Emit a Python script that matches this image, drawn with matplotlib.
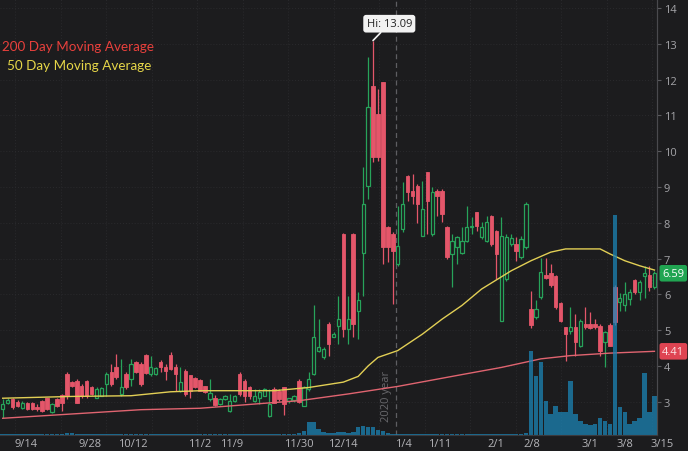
import numpy as np
import matplotlib
matplotlib.use('Agg')
import matplotlib.pyplot as plt
import matplotlib.transforms as mtransforms

# daily candles, 9/8 .. 3/15 (one entry per trading day)
opens = [2.80, 2.98, 3.08, 3.00, 2.82, 2.98, 2.98, 2.85, 3.03, 3.10,
         2.71, 3.08, 3.19, 3.78, 3.56, 3.59, 3.45, 3.59, 3.40, 3.12,
         3.17, 3.50, 3.82, 3.96, 3.22, 3.78, 3.64, 4.12, 4.06, 4.31,
         3.78, 3.78, 4.12, 3.96, 4.31, 3.96, 3.31, 3.87, 3.75, 3.66,
         3.62, 3.43, 3.08, 3.12, 2.94, 3.08, 2.75, 3.03, 3.78, 3.59,
         3.40, 3.03, 3.12, 3.17, 2.61, 3.36, 3.31, 3.40, 3.03, 3.05,
         3.59, 2.89, 3.36, 3.78, 4.43, 4.24, 5.17, 4.82, 5.13, 7.69,
         5.03, 7.69, 5.55, 7.17, 9.04, 11.83, 11.04, 11.92, 7.87, 7.69,
         6.85, 7.83, 9.30, 8.90, 9.04, 7.64, 9.41, 7.69, 8.90, 8.90,
         7.87, 7.13, 7.31, 7.17, 7.50, 7.87, 8.29, 7.59, 7.50, 8.20,
         7.78, 5.27, 6.43, 7.41, 7.41, 7.04, 7.31, 5.60, 5.36, 5.92,
         6.54, 6.60, 6.52, 5.76, 5.08, 4.98, 5.08, 4.57, 5.17, 5.17,
         5.17, 5.13, 4.66, 5.15, 6.20, 5.80, 5.69, 5.87, 6.40, 6.06,
         6.50, 6.55, 6.20]
highs = [3.08, 3.10, 3.12, 3.05, 3.03, 3.00, 3.00, 2.94, 3.05, 3.12,
         2.98, 3.12, 3.22, 3.84, 3.59, 3.64, 3.50, 3.62, 3.43, 3.40,
         3.40, 3.82, 4.06, 4.34, 4.20, 3.82, 4.20, 4.15, 4.10, 4.34,
         4.27, 3.96, 4.18, 4.05, 4.38, 4.05, 3.96, 3.92, 3.75, 3.70,
         3.64, 3.45, 3.64, 3.20, 3.10, 3.19, 3.22, 3.19, 3.82, 3.64,
         3.45, 3.36, 3.36, 3.38, 3.36, 3.40, 3.36, 3.42, 3.12, 3.20,
         3.64, 3.45, 3.82, 5.69, 5.31, 4.52, 5.22, 4.95, 5.96, 7.72,
         5.96, 7.72, 6.06, 9.55, 12.62, 13.09, 11.74, 11.94, 7.90, 7.73,
         8.48, 9.13, 9.33, 9.36, 9.08, 9.18, 9.43, 8.99, 8.94, 8.94,
         7.92, 7.69, 7.64, 7.87, 8.48, 8.15, 8.31, 8.01, 8.20, 8.22,
         7.80, 8.15, 7.69, 7.69, 7.59, 7.64, 8.57, 6.10, 5.83, 7.03,
         7.03, 6.85, 6.55, 5.78, 5.10, 5.64, 5.45, 5.31, 5.64, 5.50,
         5.31, 5.17, 4.98, 5.20, 6.25, 6.05, 6.34, 6.15, 6.43, 6.40,
         6.80, 6.80, 6.66]
lows = [2.54, 2.95, 2.80, 2.85, 2.80, 2.78, 2.78, 2.75, 2.72, 2.78,
        2.68, 2.85, 2.75, 3.08, 3.40, 2.97, 3.10, 3.12, 3.20, 3.10,
        3.15, 3.17, 3.45, 3.64, 3.17, 3.36, 3.45, 3.80, 3.45, 3.78,
        3.72, 3.76, 3.82, 3.60, 3.88, 3.31, 3.26, 3.17, 3.12, 3.38,
        3.29, 3.24, 3.03, 2.89, 2.92, 3.05, 2.72, 3.00, 3.17, 2.99,
        3.08, 2.99, 2.94, 3.15, 2.57, 2.96, 3.02, 2.62, 2.98, 3.00,
        2.97, 2.87, 3.31, 3.74, 4.38, 4.19, 4.29, 4.80, 4.61, 4.80,
        4.61, 4.80, 4.75, 5.96, 8.66, 9.69, 9.73, 6.85, 6.90, 5.73,
        6.80, 7.74, 8.62, 8.53, 8.00, 7.64, 7.69, 7.64, 8.20, 8.01,
        6.99, 6.20, 6.85, 7.13, 7.45, 7.69, 7.78, 7.55, 7.45, 7.36,
        6.43, 5.27, 6.38, 7.36, 6.94, 6.99, 7.27, 5.05, 5.31, 5.87,
        6.43, 6.22, 5.59, 5.22, 4.15, 4.89, 4.29, 4.52, 5.03, 5.03,
        5.03, 4.29, 3.96, 4.57, 5.15, 5.55, 5.55, 5.70, 6.00, 5.85,
        5.90, 6.10, 6.15]
closes = [2.94, 3.05, 2.85, 2.89, 2.96, 2.80, 2.80, 2.80, 2.75, 2.80,
          2.94, 2.89, 2.98, 3.17, 3.45, 2.98, 3.17, 3.17, 3.22, 3.36,
          3.38, 3.78, 3.50, 3.68, 3.40, 3.40, 4.06, 3.82, 3.50, 3.80,
          3.96, 3.94, 3.96, 3.87, 3.92, 3.78, 3.54, 3.22, 3.31, 3.40,
          3.31, 3.26, 3.24, 2.91, 3.08, 3.17, 3.03, 3.15, 3.22, 3.17,
          3.17, 3.17, 3.26, 3.36, 2.94, 2.98, 3.08, 2.94, 3.10, 3.15,
          2.99, 3.40, 3.64, 4.80, 4.52, 4.47, 4.61, 4.90, 5.31, 5.03,
          5.31, 5.17, 5.83, 8.52, 11.22, 9.83, 9.83, 7.31, 7.31, 7.22,
          7.36, 8.52, 8.85, 8.76, 8.52, 8.39, 8.62, 8.85, 8.76, 8.25,
          7.04, 7.50, 7.59, 7.50, 7.87, 7.91, 7.92, 7.87, 8.01, 7.41,
          7.13, 7.64, 7.59, 7.57, 7.22, 7.55, 8.52, 5.15, 5.59, 6.62,
          6.45, 6.25, 5.64, 5.27, 4.89, 5.08, 4.66, 5.27, 5.08, 5.06,
          5.08, 4.43, 4.94, 4.57, 5.22, 5.90, 6.01, 6.06, 6.06, 6.34,
          6.60, 6.20, 6.59]
# volume, millions of shares
volume = [0.05, 0.05, 0.05, 0.05, 0.05, 0.05, 0.05, 0.05, 0.05, 0.05,
          0.05, 0.05, 0.05, 0.15, 0.15, 0.1, 0.05, 0.05, 0.05, 0.05,
          0.1, 0.1, 0.1, 0.1, 0.1, 0.1, 0.1, 0.1, 0.1, 0.1,
          0.05, 0.05, 0.05, 0.05, 0.05, 0.05, 0.05, 0.05, 0.05, 0.05,
          0.05, 0.05, 0.05, 0.05, 0.05, 0.05, 0.05, 0.05, 0.05, 0.05,
          0.05, 0.05, 0.05, 0.05, 0.05, 0.05, 0.05, 0.05, 0.05, 0.1,
          0.2, 0.4, 1.3, 1.3, 0.6, 0.3, 0.2, 0.2, 0.3, 0.3,
          0.2, 0.3, 0.8, 0.9, 0.8, 0.8, 0.5, 0.4, 0.2, 0.1,
          0.1, 0.1, 0.1, 0.1, 0.1, 0.05, 0.05, 0.05, 0.05, 0.05,
          0.05, 0.05, 0.05, 0.05, 0.05, 0.05, 0.05, 0.05, 0.05, 0.05,
          0.05, 0.05, 0.05, 0.05, 0.05, 0.05, 0.15, 8.4, 5.9, 7.3,
          3.4, 2.1, 2.9, 2.3, 2.3, 5.4, 2.1, 1.4, 1.1, 1.0,
          1.1, 1.7, 1.4, 1.1, 22.0, 2.8, 2.3, 1.1, 1.4, 1.7,
          6.2, 2.3, 3.9]

ma50_day = [0, 14, 26, 34, 40, 55, 62, 69, 72, 74, 76, 80, 85, 89, 93, 97,
            103, 107, 111, 114, 121, 123, 126, 129, 132]
ma50 = [3.10, 3.15, 3.17, 3.28, 3.31, 3.31, 3.40, 3.55, 3.71, 4.00, 4.24, 4.43,
        4.89, 5.31, 5.69, 6.15, 6.66, 6.94, 7.18, 7.27, 7.27, 7.13, 6.94, 6.80, 6.68]
ma200_day = [0, 28, 40, 55, 60, 70, 80, 93, 101, 109, 115, 123, 132]
ma200 = [2.54, 2.78, 2.82, 2.98, 3.03, 3.22, 3.43, 3.76, 3.96, 4.20, 4.29, 4.36, 4.41]

tick_days = [4.7, 17.7, 26.4, 39.8, 46.4, 60.0, 68.9, 81.1, 88.4, 99.9, 107.2, 118.9, 126.0]
tick_labels = ['9/14', '9/28', '10/12', '11/2', '11/9', '11/30', '12/14', '1/4',
               '1/11', '2/1', '2/8', '3/1', '3/8']
year_day = 79.6

BG = '#1c1c1e'
UP = '#27a35a'
DOWN = '#e4566a'

fig = plt.figure(figsize=(6.88, 4.52), dpi=100, facecolor=BG)
ax = fig.add_axes([0, 0.0354, 0.955, 0.9646], facecolor=BG)
vax = ax.twinx()

x = np.arange(len(opens))
o = np.array(opens); c = np.array(closes)
h = np.array(highs); l = np.array(lows)
up = c >= o
cols = np.where(up, UP, DOWN)

# grid
for g in np.arange(2.5, 133, 9.22):
    ax.axvline(g, color='#2a2a2d', lw=0.7, ls=(0, (1, 2)), zorder=0)
for p in range(3, 15):
    ax.axhline(p, color='#2a2a2d', lw=0.7, ls=(0, (1, 2)), zorder=0)
ax.axvline(year_day, color='#5e5e62', lw=0.9, ls=(0, (4, 3)), zorder=1)
ax.text(year_day - 1.8, 2.47, '2020 year', rotation=90, color='#68686c',
        fontsize=8, family='Open Sans', ha='center', va='bottom', zorder=1)

# candles
ax.vlines(x, l, h, colors=cols, lw=0.9, zorder=2)
body = np.maximum(np.abs(c - o), 0.03)
bot = np.minimum(o, c)
ax.bar(x[up], body[up], bottom=bot[up], width=0.66, facecolor=BG,
       edgecolor=UP, linewidth=0.9, zorder=3)
ax.bar(x[~up], body[~up], bottom=bot[~up], width=0.72, facecolor=DOWN,
       edgecolor=DOWN, linewidth=0.6, zorder=3)

# moving averages
ax.plot(ma200_day, ma200, color='#e06470', lw=1.0, zorder=4)
ax.plot(ma50_day, ma50, color='#e2cf55', lw=1.0, zorder=4)

# volume
vax.bar(x, volume, width=0.92, color='#1b84b5', alpha=0.75, linewidth=0)
vax.set_ylim(0, 43.6)
vax.yaxis.set_visible(False)

ax.set_xlim(-0.55, 132.53)
ax.set_ylim(2.073, 14.25)
ax.yaxis.tick_right()
ax.set_yticks(range(3, 15))
ax.tick_params(axis='y', length=3, color='#5a5a5e', labelcolor='#a4a4a8',
               labelsize=8, pad=2)
ax.set_xticks(tick_days)
ax.set_xticklabels(tick_labels)
ax.tick_params(axis='x', length=0, labelcolor='#b4b4b8', labelsize=8, pad=2)
for lab in ax.get_xticklabels() + ax.get_yticklabels():
    lab.set_family('Open Sans')
ax.annotate('3/15', xy=(133.5, 0), xycoords=('data', 'axes fraction'),
            xytext=(0, -2), textcoords='offset points', ha='center', va='top',
            color='#b4b4b8', fontsize=8, family='Open Sans', annotation_clip=False)

for a in (ax, vax):
    for s in ('top', 'left'):
        a.spines[s].set_visible(False)
    a.spines['right'].set_color('#4a4a4e')
    a.spines['bottom'].set_color('#3a3a3e')

# price tags
tr = mtransforms.blended_transform_factory(ax.transAxes, ax.transData)
ax.text(1.008, closes[-1], f'{closes[-1]:.2f}', transform=tr, color='white',
        fontsize=8, family='Open Sans', ha='left', va='center', zorder=6,
        bbox=dict(boxstyle='round,pad=0.25,rounding_size=0.2', fc='#21a552', ec='none'))
ax.text(1.008, ma200[-1], f'{ma200[-1]:.2f}', transform=tr, color='#fde2e4',
        fontsize=8, family='Open Sans', ha='left', va='center', zorder=6,
        bbox=dict(boxstyle='round,pad=0.25,rounding_size=0.2', fc='#df4452', ec='none'))

# high marker
hi = int(np.argmax(h))
ax.annotate(f'Hi: {h[hi]:.2f}', xy=(hi, h[hi]), xytext=(hi + 3.3, 13.56),
            ha='center', va='center', fontsize=8, family='Open Sans', color='#222222',
            bbox=dict(boxstyle='round,pad=0.3,rounding_size=0.25', fc='#f2f2f2', ec='none'),
            arrowprops=dict(arrowstyle='-', color='#f2f2f2', lw=1.2,
                            shrinkA=0, shrinkB=0), zorder=7)

fig.text(2 / 688, 1 - 47 / 452, '200 Day Moving Average', color='#e8403c',
         fontsize=9.7, family='Lato', ha='left', va='center')
fig.text(7 / 688, 1 - 66 / 452, '50 Day Moving Average', color='#e6d648',
         fontsize=9.7, family='Lato', ha='left', va='center')

fig.savefig('out.png', dpi=100, facecolor=BG)
